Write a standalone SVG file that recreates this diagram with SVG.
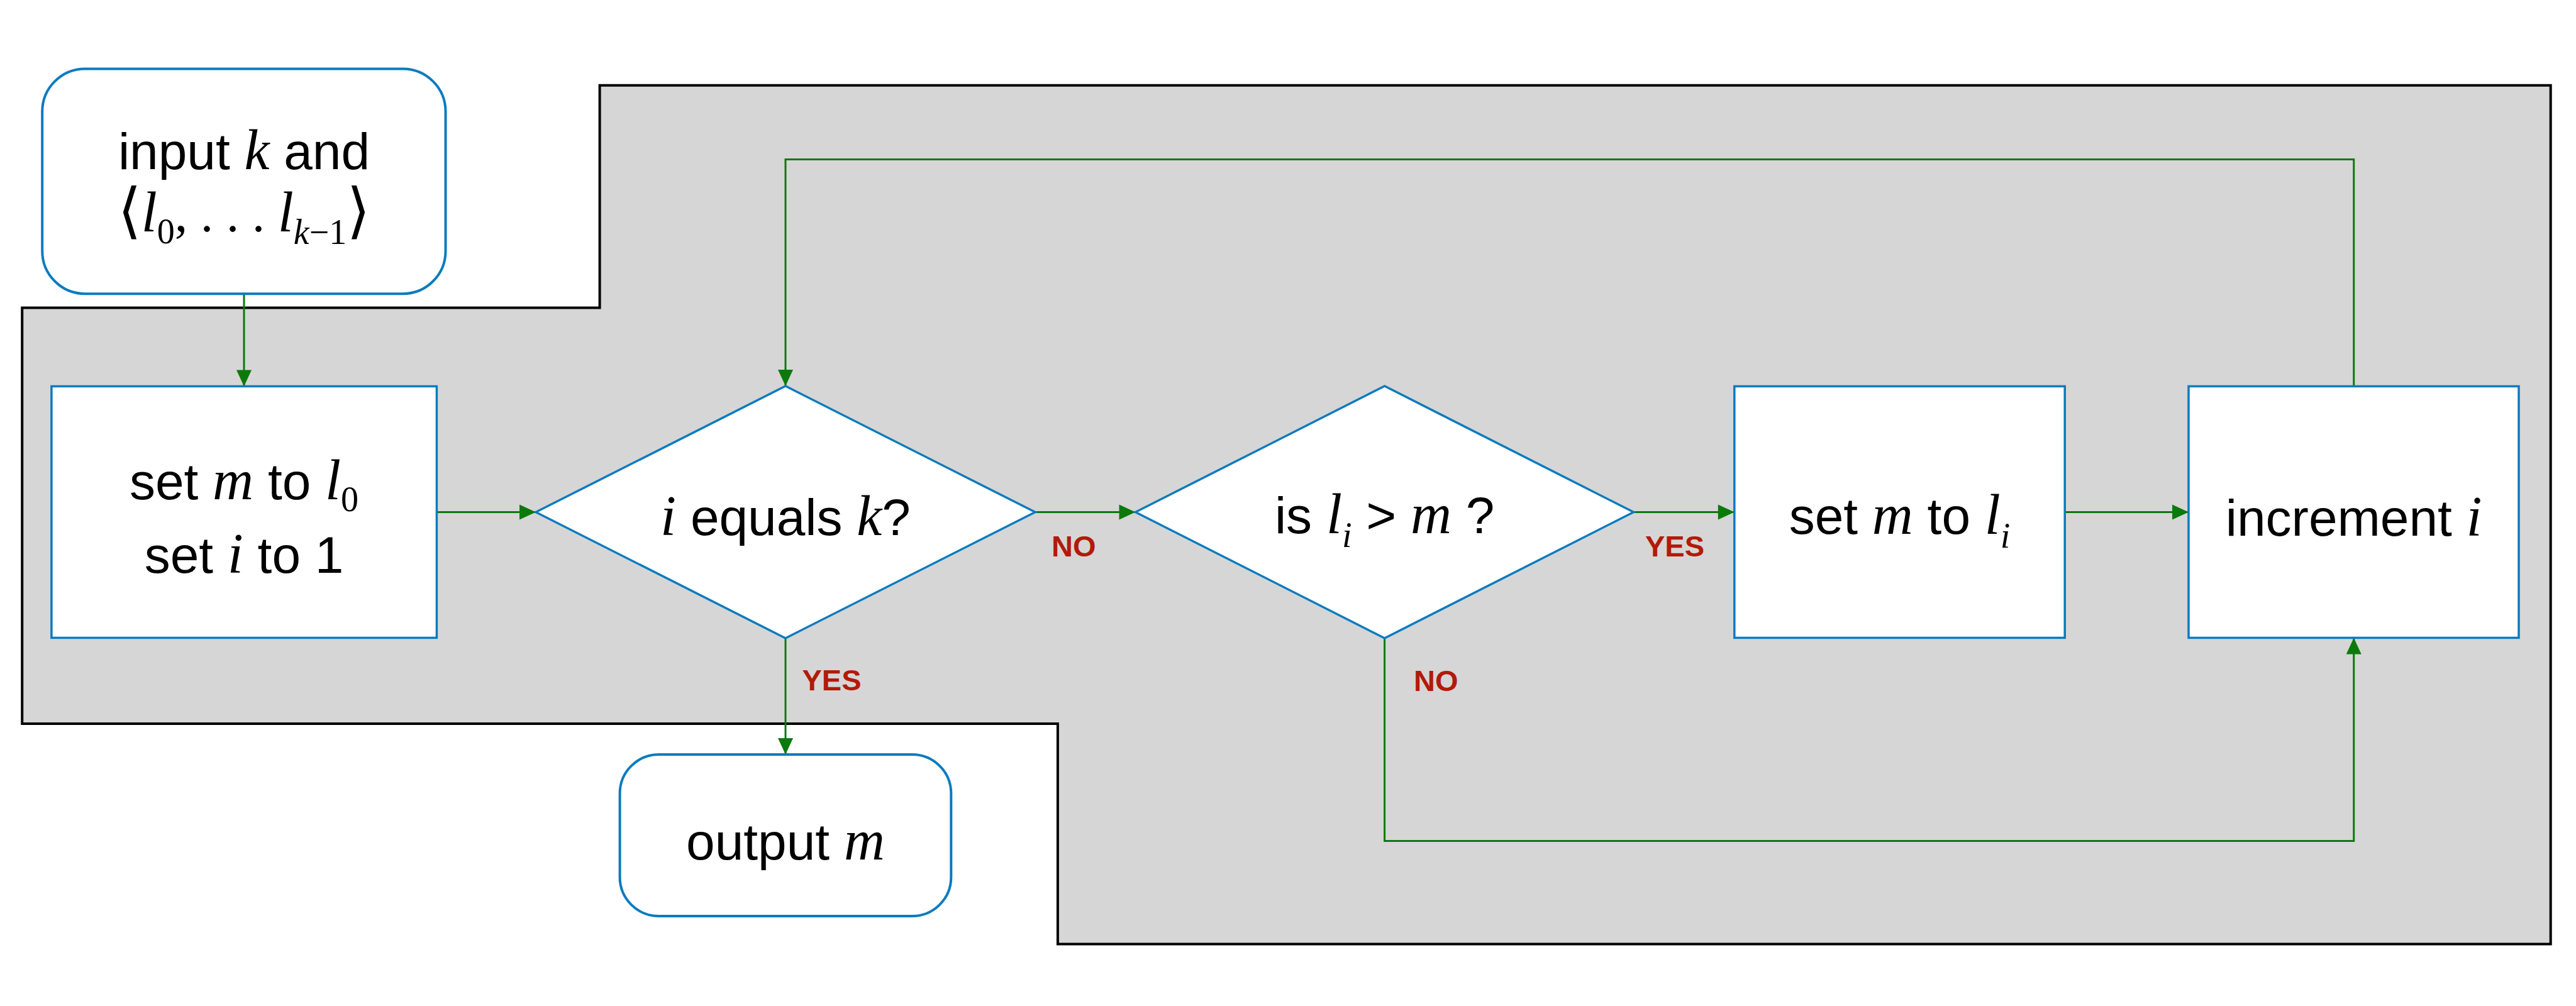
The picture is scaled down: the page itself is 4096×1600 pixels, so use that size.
<svg xmlns="http://www.w3.org/2000/svg" width="4096" height="1600" viewBox="0 0 4096 1600">
<style>
.bg{fill:#d6d6d6;stroke:#000;stroke-width:4;stroke-linejoin:miter}
.node{fill:#fff;stroke:#0a7bbf;stroke-width:3.5}
.term{fill:#fff;stroke:#0a7bbf;stroke-width:4}
.t{font-family:"Liberation Sans",Arial,sans-serif;font-size:82px;fill:#000;text-anchor:middle}
.v{font-family:"Liberation Serif","Times New Roman",serif;font-style:italic;font-size:90px}
.m{font-family:"Liberation Serif","DejaVu Serif",serif}
.s{font-family:"Liberation Serif","Times New Roman",serif;font-size:56px}
.si{font-style:italic}
.br{font-family:"DejaVu Serif","Liberation Serif",serif;font-size:96px}
.lbl{font-family:"Liberation Sans",Arial,sans-serif;font-weight:bold;font-size:47px;fill:#b31a08}
.c{fill:none;stroke:#0b7a0b;stroke-width:3}
</style>
<defs>
<marker id="ah" markerUnits="userSpaceOnUse" markerWidth="28" markerHeight="26" viewBox="0 0 28 26" refX="27" refY="13" orient="auto">
<path d="M1,1 L27,13 L1,25 Z" fill="#0b7a0b"/>
</marker>
</defs>

<g id="background">
<polygon class="bg" points="953.6,135.7 4055.7,135.7 4055.7,1501.4 1681.9,1501.4 1681.9,1151 35.2,1151 35.2,489.6 953.6,489.6"/>
</g>

<g id="connectors">
<path class="c" d="M388,467.2 V614.4" marker-end="url(#ah)"/>
<path class="c" d="M694.4,814.5 H852" marker-end="url(#ah)"/>
<path class="c" d="M1646,814.5 H1805.5" marker-end="url(#ah)"/>
<path class="c" d="M2597.5,814.5 H2757.8" marker-end="url(#ah)"/>
<path class="c" d="M3283.2,814.5 H3480" marker-end="url(#ah)"/>
<path class="c" d="M3742.7,614.4 V253.4 H1249 V614" marker-end="url(#ah)"/>
<path class="c" d="M2201.6,1015 V1337.6 H3742.7 V1014.4" marker-end="url(#ah)"/>
<path class="c" d="M1249,1015 V1200" marker-end="url(#ah)"/>
<text class="lbl" x="1672" y="884.5">NO</text>
<text class="lbl" x="2616" y="884.5">YES</text>
<text class="lbl" x="1275.5" y="1098">YES</text>
<text class="lbl" x="2248" y="1099">NO</text>
</g>

<g id="node-input">
<rect class="term" x="67.2" y="109.4" width="641.3" height="357.8" rx="68" ry="68"/>
<text class="t" x="388" y="269.4">input <tspan class="v">k</tspan> and</text>
<text class="t m" x="388" y="368"><tspan class="br">⟨</tspan><tspan class="v">l</tspan><tspan class="s" dy="19">0</tspan><tspan class="m" dy="-19">, . . . </tspan><tspan class="v">l</tspan><tspan class="s si" dy="20">k</tspan><tspan class="s">−1</tspan><tspan class="br" dy="-20">⟩</tspan></text>
</g>

<g id="node-init">
<rect class="node" x="81.9" y="614.4" width="612.5" height="400"/>
<text class="t" x="388" y="794">set <tspan class="v">m</tspan> to <tspan class="v">l</tspan><tspan class="s" dy="19">0</tspan></text>
<text class="t" x="388" y="911">set <tspan class="v">i</tspan> to 1</text>
</g>

<g id="node-test-end">
<polygon class="node" points="852,814.5 1249,614 1646,814.5 1249,1015"/>
<text class="t" x="1249" y="850.5"><tspan class="v">i</tspan> equals <tspan class="v">k</tspan>?</text>
</g>

<g id="node-compare">
<polygon class="node" points="1805.5,814.5 2201.6,614 2597.5,814.5 2201.6,1015"/>
<text class="t" x="2201.6" y="848">is <tspan class="v">l</tspan><tspan class="s si" dy="22">i</tspan><tspan dy="-22"> &gt; </tspan><tspan class="v">m</tspan> ?</text>
</g>

<g id="node-set-max">
<rect class="node" x="2757.8" y="614.4" width="525.4" height="400"/>
<text class="t" x="3020.5" y="849">set <tspan class="v">m</tspan> to <tspan class="v">l</tspan><tspan class="s si" dy="22">i</tspan></text>
</g>

<g id="node-increment">
<rect class="node" x="3480" y="614.4" width="525" height="400"/>
<text class="t" x="3742.7" y="852">increment <tspan class="v">i</tspan></text>
</g>

<g id="node-output">
<rect class="term" x="985.6" y="1200" width="526.7" height="257" rx="62" ry="62"/>
<text class="t" x="1249" y="1367">output <tspan class="v">m</tspan></text>
</g>
</svg>
